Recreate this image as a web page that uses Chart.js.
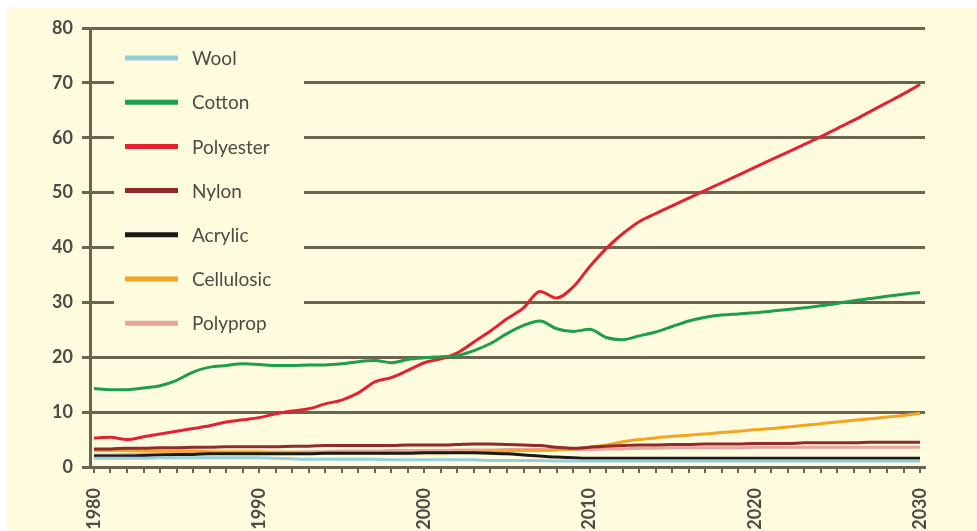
<!DOCTYPE html>
<html>
<head>
<meta charset="utf-8">
<script src="https://cdn.jsdelivr.net/npm/chart.js@4.4.1/dist/chart.umd.min.js"></script>
<style>
  html, body { margin: 0; padding: 0; background: #ffffff; }
  #wrap { position: relative; width: 977px; height: 531px; }
  canvas { display: block; }
</style>
</head>
<body>
<div id="wrap"><canvas id="fibres" width="977" height="531"></canvas></div>
<script>
// Years on the x axis (one point per year)
const years = [
  1980, 1981, 1982, 1983, 1984, 1985, 1986, 1987, 1988, 1989,
  1990, 1991, 1992, 1993, 1994, 1995, 1996, 1997, 1998, 1999,
  2000, 2001, 2002, 2003, 2004, 2005, 2006, 2007, 2008, 2009,
  2010, 2011, 2012, 2013, 2014, 2015, 2016, 2017, 2018, 2019,
  2020, 2021, 2022, 2023, 2024, 2025, 2026, 2027, 2028, 2029,
  2030
];

// Years that carry a printed label
const decadeLabels = [1980, 1990, 2000, 2010, 2020, 2030];

// Fibre production, million tonnes
const wool = [
  1.6, 1.6, 1.6, 1.6, 1.7, 1.7, 1.7, 1.7, 1.7, 1.7,
  1.7, 1.6, 1.5, 1.4, 1.4, 1.4, 1.4, 1.4, 1.3, 1.3,
  1.3, 1.3, 1.3, 1.3, 1.2, 1.2, 1.2, 1.2, 1.1, 1.1,
  1.1, 1.1, 1.1, 1.1, 1.1, 1.1, 1.1, 1.1, 1.1, 1.1,
  1.1, 1.1, 1.1, 1.1, 1.1, 1.1, 1.1, 1.1, 1.1, 1.1,
  1.1
];
const cotton = [
  14.3, 14.1, 14.1, 14.4, 14.8, 15.8, 17.3, 18.2, 18.5, 18.8,
  18.7, 18.5, 18.5, 18.6, 18.6, 18.8, 19.2, 19.4, 19.0, 19.6,
  19.9, 20.1, 20.3, 21.2, 22.5, 24.3, 25.8, 26.6, 25.2, 24.7,
  25.1, 23.6, 23.2, 23.9, 24.6, 25.6, 26.6, 27.3, 27.7, 27.9,
  28.1, 28.4, 28.7, 29.0, 29.4, 29.8, 30.3, 30.7, 31.1, 31.5,
  31.8
];
const polyester = [
  5.3, 5.4, 5.0, 5.5, 6.0, 6.5, 7.0, 7.5, 8.2, 8.6,
  9.0, 9.7, 10.2, 10.6, 11.5, 12.2, 13.5, 15.5, 16.3, 17.6,
  19.0, 19.7, 20.8, 22.8, 24.8, 27.0, 29.0, 32.0, 30.8, 32.8,
  36.5, 39.8, 42.5, 44.7, 46.2, 47.6, 49.0, 50.4, 51.8, 53.2,
  54.6, 56.0, 57.4, 58.8, 60.2, 61.7, 63.2, 64.8, 66.4, 68.0,
  69.7
];
const nylon = [
  3.3, 3.3, 3.4, 3.4, 3.5, 3.5, 3.6, 3.6, 3.7, 3.7,
  3.7, 3.7, 3.8, 3.8, 3.9, 3.9, 3.9, 3.9, 3.9, 4.0,
  4.0, 4.0, 4.1, 4.2, 4.2, 4.1, 4.0, 3.9, 3.6, 3.4,
  3.6, 3.8, 3.9, 4.0, 4.0, 4.1, 4.1, 4.2, 4.2, 4.2,
  4.3, 4.3, 4.3, 4.4, 4.4, 4.4, 4.4, 4.5, 4.5, 4.5,
  4.5
];
const acrylic = [
  2.0, 2.0, 2.0, 2.1, 2.2, 2.3, 2.3, 2.4, 2.4, 2.4,
  2.4, 2.4, 2.4, 2.4, 2.5, 2.5, 2.5, 2.5, 2.5, 2.5,
  2.6, 2.6, 2.6, 2.6, 2.5, 2.4, 2.2, 2.0, 1.8, 1.7,
  1.6, 1.6, 1.6, 1.6, 1.6, 1.6, 1.6, 1.6, 1.6, 1.6,
  1.6, 1.6, 1.6, 1.6, 1.6, 1.6, 1.6, 1.6, 1.6, 1.6,
  1.6
];
const cellulosic = [
  3.0, 3.0, 3.0, 2.9, 2.9, 2.9, 2.9, 2.8, 2.8, 2.8,
  2.8, 2.7, 2.7, 2.6, 2.6, 2.6, 2.6, 2.6, 2.6, 2.6,
  2.6, 2.6, 2.7, 2.7, 2.8, 2.9, 3.0, 3.0, 3.1, 3.3,
  3.6, 4.0, 4.6, 5.0, 5.3, 5.6, 5.8, 6.0, 6.3, 6.5,
  6.8, 7.0, 7.3, 7.6, 7.9, 8.2, 8.5, 8.8, 9.1, 9.4,
  9.8
];
const polyprop = [
  2.2, 2.2, 2.3, 2.3, 2.4, 2.4, 2.5, 2.5, 2.6, 2.6,
  2.6, 2.7, 2.7, 2.8, 2.8, 2.9, 2.9, 2.9, 3.0, 3.0,
  3.0, 3.0, 3.1, 3.1, 3.1, 3.2, 3.2, 3.2, 3.2, 3.2,
  3.2, 3.3, 3.3, 3.4, 3.4, 3.5, 3.5, 3.5, 3.5, 3.5,
  3.6, 3.6, 3.6, 3.6, 3.6, 3.6, 3.6, 3.6, 3.6, 3.6,
  3.6
];

const seriesNames = ['Wool', 'Cotton', 'Polyester', 'Nylon', 'Acrylic', 'Cellulosic', 'Polyprop'];
const seriesValues = [wool, cotton, polyester, nylon, acrylic, cellulosic, polyprop];
const seriesColors = ['#93d0dc', '#1f9e4a', '#e3222f', '#8e2b2b', '#1c1a17', '#f2a522', '#e9a3a0'];

const CREAM = '#fffbdf';
const RULE = '#6a6450';
const TEXT = '#4f4a43';
const FONT = 'Lato, "Open Sans", sans-serif';

const datasets = seriesNames.map((name, i) => ({
  label: name,
  data: years.map((yr, k) => ({ x: yr, y: seriesValues[i][k] })),
  borderColor: seriesColors[i],
  backgroundColor: seriesColors[i],
  borderWidth: 3,
  pointRadius: 0,
  cubicInterpolationMode: 'monotone',
  fill: false
}));

// Page background: cream panel with a thin white margin
const backdrop = {
  id: 'backdrop',
  beforeDraw(chart) {
    const ctx = chart.ctx;
    ctx.save();
    ctx.fillStyle = '#ffffff';
    ctx.fillRect(0, 0, chart.width, chart.height);
    ctx.fillStyle = CREAM;
    ctx.fillRect(7, 7, chart.width - 7, chart.height - 7);
    ctx.restore();
  }
};

// Key drawn inside the plot, on a cream block over the grid
const insetKey = {
  id: 'insetKey',
  beforeDatasetsDraw(chart) {
    const ctx = chart.ctx;
    ctx.save();
    ctx.fillStyle = CREAM;
    ctx.fillRect(114, 34, 190, 312);
    ctx.font = '19px ' + FONT;
    ctx.textBaseline = 'middle';
    chart.data.datasets.forEach((ds, i) => {
      const y = 58 + i * 44.2;
      ctx.strokeStyle = ds.borderColor;
      ctx.lineWidth = 5;
      ctx.lineCap = 'butt';
      ctx.beginPath();
      ctx.moveTo(125, y);
      ctx.lineTo(178, y);
      ctx.stroke();
      ctx.fillStyle = TEXT;
      ctx.fillText(ds.label, 192, y + 1);
    });
    ctx.restore();
  }
};

new Chart(document.getElementById('fibres'), {
  type: 'line',
  data: { datasets },
  plugins: [backdrop, insetKey],
  options: {
    responsive: false,
    animation: false,
    layout: { padding: { top: 28, right: 52, left: 0, bottom: 0 } },
    plugins: {
      legend: { display: false },
      tooltip: { enabled: false }
    },
    scales: {
      x: {
        type: 'linear',
        min: 1979.76,
        max: 2030.3,
        afterBuildTicks(scale) {
          scale.ticks = years.map(v => ({ value: v }));
        },
        afterFit(scale) { scale.height = 64; },
        ticks: {
          autoSkip: false,
          maxRotation: 90,
          minRotation: 90,
          padding: 15,
          color: TEXT,
          font: { family: FONT, size: 18, weight: 'bold' },
          callback: v => decadeLabels.includes(v) ? String(v) : ''
        },
        grid: { drawOnChartArea: false, drawTicks: true, tickLength: 6, color: RULE, lineWidth: 2 },
        border: { color: RULE, width: 3 }
      },
      y: {
        min: 0,
        max: 80,
        afterFit(scale) { scale.width = 90; },
        ticks: {
          stepSize: 10,
          padding: 9,
          color: TEXT,
          font: { family: FONT, size: 18, weight: 'bold' }
        },
        grid: { color: RULE, lineWidth: 3, tickLength: 8 },
        border: { color: RULE, width: 3 }
      }
    }
  }
});
</script>
</body>
</html>
